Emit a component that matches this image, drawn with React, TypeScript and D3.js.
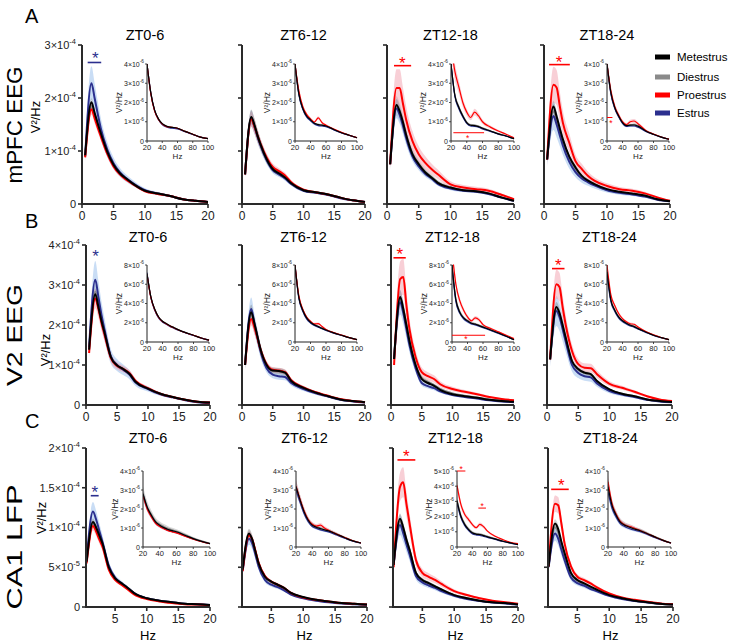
import React from "react";
import * as d3 from "d3";

// ---------- labels ----------
const STATES = ["Metestrus", "Diestrus", "Proestrus", "Estrus"];
const LINE_COLORS = ["#000000", "#8a8a8a", "#ff0000", "#2b2f8e"];
const BAND_COLORS = ["#8c8c8c", "#b0b0b0", "#f2a0ae", "#94bbec"];
const REGIONS = ["mPFC EEG", "V2 EEG", "CA1 LFP"];
const LETTERS = ["A", "B", "C"];
const PERIODS = ["ZT0-6", "ZT6-12", "ZT12-18", "ZT18-24"];

// ---------- frequencies ----------
const F_MAIN = [0.5, 1.5, 2, 2.5, 3, 4, 5, 6, 7, 8, 10, 12, 14, 16, 18, 20];
const F_INSET = [20, 25, 30, 35, 40, 45, 50, 55, 60, 70, 80, 90, 100];

// ---------- A: mPFC EEG, 0-20 Hz (x1e-4 V2/Hz) [Met, Di, Pro, Est] ----------
const mPFC_ZT0_6 = [
  [0.92, 1.92, 1.72, 1.52, 1.33, 0.99, 0.74, 0.58, 0.48, 0.39, 0.25, 0.2, 0.15, 0.09, 0.06, 0.04],
  [0.9, 1.85, 1.68, 1.49, 1.31, 0.98, 0.73, 0.58, 0.48, 0.39, 0.25, 0.2, 0.15, 0.09, 0.06, 0.04],
  [0.88, 1.79, 1.62, 1.44, 1.27, 0.95, 0.71, 0.56, 0.46, 0.38, 0.24, 0.19, 0.15, 0.09, 0.06, 0.04],
  [0.9, 2.28, 2.0, 1.7, 1.42, 1.03, 0.77, 0.6, 0.49, 0.4, 0.26, 0.2, 0.15, 0.09, 0.06, 0.04],
];
const mPFC_ZT6_12 = [
  [0.56, 1.64, 1.5, 1.3, 1.13, 0.85, 0.66, 0.58, 0.5, 0.39, 0.26, 0.22, 0.18, 0.12, 0.07, 0.04],
  [0.56, 1.62, 1.48, 1.29, 1.12, 0.85, 0.67, 0.59, 0.51, 0.4, 0.26, 0.22, 0.18, 0.12, 0.07, 0.04],
  [0.56, 1.6, 1.47, 1.3, 1.14, 0.88, 0.7, 0.62, 0.54, 0.41, 0.27, 0.22, 0.18, 0.12, 0.07, 0.04],
  [0.56, 1.62, 1.47, 1.28, 1.11, 0.83, 0.64, 0.56, 0.48, 0.38, 0.25, 0.21, 0.17, 0.11, 0.07, 0.04],
];
const mPFC_ZT12_18 = [
  [0.75, 1.87, 1.75, 1.55, 1.31, 0.94, 0.75, 0.6, 0.5, 0.4, 0.31, 0.26, 0.24, 0.2, 0.125, 0.06],
  [0.75, 1.85, 1.73, 1.53, 1.3, 0.95, 0.76, 0.61, 0.51, 0.41, 0.31, 0.26, 0.24, 0.2, 0.125, 0.06],
  [0.75, 2.19, 2.19, 1.9, 1.6, 1.19, 0.94, 0.78, 0.66, 0.56, 0.37, 0.31, 0.28, 0.25, 0.175, 0.09],
  [0.75, 1.8, 1.68, 1.48, 1.25, 0.9, 0.71, 0.57, 0.48, 0.38, 0.29, 0.25, 0.23, 0.19, 0.12, 0.06],
];
const mPFC_ZT18_24 = [
  [0.84, 1.84, 1.65, 1.43, 1.22, 0.9, 0.69, 0.53, 0.44, 0.375, 0.28, 0.23, 0.2, 0.16, 0.09, 0.05],
  [0.84, 1.75, 1.58, 1.37, 1.17, 0.86, 0.66, 0.51, 0.43, 0.37, 0.27, 0.22, 0.19, 0.15, 0.09, 0.05],
  [0.84, 2.25, 2.2, 1.85, 1.53, 1.16, 0.81, 0.66, 0.53, 0.44, 0.34, 0.28, 0.25, 0.2, 0.125, 0.06],
  [0.84, 1.66, 1.5, 1.3, 1.1, 0.8, 0.6, 0.48, 0.41, 0.35, 0.26, 0.21, 0.18, 0.14, 0.08, 0.05],
];

// ---------- A insets 20-100 Hz (x1e-6) ----------
const mPFC_IN_ZT0_6 = [
  [4.0, 2.5, 1.6, 1.15, 0.9, 0.78, 0.72, 0.7, 0.66, 0.5, 0.35, 0.2, 0.12],
  [4.0, 2.5, 1.6, 1.15, 0.9, 0.78, 0.72, 0.7, 0.66, 0.5, 0.35, 0.2, 0.12],
  [4.0, 2.45, 1.55, 1.12, 0.88, 0.76, 0.72, 0.7, 0.66, 0.5, 0.35, 0.2, 0.12],
  [4.0, 2.5, 1.58, 1.12, 0.86, 0.74, 0.68, 0.66, 0.63, 0.48, 0.34, 0.2, 0.12],
];
const mPFC_IN_ZT6_12 = [
  [4.0, 2.45, 1.7, 1.3, 1.1, 0.92, 0.85, 0.82, 0.78, 0.6, 0.43, 0.3, 0.17],
  [4.0, 2.45, 1.7, 1.3, 1.1, 0.92, 0.86, 0.83, 0.78, 0.6, 0.43, 0.3, 0.17],
  [4.0, 2.6, 1.8, 1.38, 1.15, 0.98, 1.2, 0.95, 0.82, 0.62, 0.45, 0.3, 0.17],
  [4.0, 2.4, 1.65, 1.25, 1.05, 0.88, 0.8, 0.78, 0.75, 0.58, 0.42, 0.29, 0.17],
];
const mPFC_IN_ZT12_18 = [
  [4.0, 2.35, 1.74, 1.3, 0.96, 0.82, 0.8, 0.75, 0.66, 0.52, 0.37, 0.26, 0.12],
  [4.0, 2.4, 1.78, 1.33, 0.98, 0.84, 0.82, 0.77, 0.68, 0.53, 0.38, 0.26, 0.12],
  [5.0, 3.6, 2.8, 2.0, 1.5, 1.22, 1.5, 1.3, 1.0, 0.72, 0.52, 0.35, 0.17],
  [4.0, 2.3, 1.68, 1.25, 0.92, 0.78, 0.76, 0.72, 0.63, 0.5, 0.36, 0.25, 0.12],
];
const mPFC_IN_ZT18_24 = [
  [4.0, 2.52, 1.74, 1.3, 0.96, 0.8, 0.82, 0.83, 0.77, 0.52, 0.35, 0.2, 0.09],
  [4.0, 2.5, 1.72, 1.28, 0.95, 0.8, 0.84, 0.86, 0.8, 0.53, 0.35, 0.2, 0.09],
  [4.0, 2.6, 1.8, 1.35, 1.0, 0.85, 1.0, 1.04, 0.9, 0.55, 0.36, 0.21, 0.1],
  [4.0, 2.45, 1.7, 1.26, 0.92, 0.76, 0.78, 0.78, 0.72, 0.5, 0.34, 0.2, 0.09],
];

// ---------- B: V2 EEG, 0-20 Hz (x1e-4) ----------
const V2_ZT0_6 = [
  [1.38, 2.77, 2.45, 2.1, 1.8, 1.2, 0.99, 0.9, 0.78, 0.58, 0.41, 0.28, 0.2, 0.13, 0.08, 0.06],
  [1.4, 2.83, 2.5, 2.12, 1.82, 1.2, 0.99, 0.9, 0.78, 0.58, 0.41, 0.28, 0.2, 0.13, 0.08, 0.06],
  [1.3, 2.66, 2.4, 2.05, 1.75, 1.18, 0.98, 0.9, 0.8, 0.6, 0.42, 0.28, 0.2, 0.13, 0.08, 0.06],
  [1.45, 3.13, 2.7, 2.25, 1.88, 1.22, 1.0, 0.88, 0.76, 0.56, 0.4, 0.27, 0.19, 0.12, 0.07, 0.05],
];
const V2_ZT6_12 = [
  [1.0, 2.32, 2.05, 1.72, 1.4, 1.0, 0.86, 0.85, 0.81, 0.6, 0.43, 0.31, 0.22, 0.14, 0.1, 0.07],
  [1.0, 2.28, 2.0, 1.7, 1.38, 0.98, 0.85, 0.84, 0.8, 0.6, 0.43, 0.31, 0.22, 0.14, 0.1, 0.07],
  [1.0, 2.15, 1.95, 1.68, 1.4, 1.02, 0.88, 0.86, 0.82, 0.62, 0.44, 0.32, 0.23, 0.15, 0.1, 0.07],
  [1.0, 2.4, 2.05, 1.7, 1.35, 0.92, 0.76, 0.72, 0.7, 0.55, 0.4, 0.29, 0.21, 0.13, 0.09, 0.06],
];
const V2_ZT12_18 = [
  [1.15, 2.7, 2.4, 2.0, 1.6, 1.0, 0.65, 0.55, 0.48, 0.38, 0.27, 0.22, 0.18, 0.13, 0.1, 0.08],
  [1.15, 2.65, 2.38, 2.0, 1.6, 1.0, 0.68, 0.58, 0.5, 0.4, 0.29, 0.23, 0.19, 0.14, 0.1, 0.08],
  [1.0, 3.15, 3.2, 2.5, 1.9, 1.2, 0.82, 0.72, 0.65, 0.52, 0.4, 0.33, 0.27, 0.2, 0.15, 0.12],
  [1.15, 2.57, 2.3, 1.9, 1.5, 0.92, 0.55, 0.47, 0.42, 0.34, 0.25, 0.2, 0.16, 0.12, 0.09, 0.07],
];
const V2_ZT18_24 = [
  [1.14, 2.45, 2.3, 2.0, 1.68, 1.1, 0.9, 0.81, 0.77, 0.6, 0.39, 0.28, 0.22, 0.14, 0.1, 0.075],
  [1.14, 2.4, 2.25, 1.96, 1.65, 1.08, 0.88, 0.8, 0.76, 0.59, 0.38, 0.28, 0.22, 0.14, 0.1, 0.075],
  [1.14, 3.02, 2.95, 2.45, 2.0, 1.35, 1.02, 0.93, 0.92, 0.77, 0.53, 0.43, 0.33, 0.22, 0.14, 0.1],
  [1.14, 2.35, 2.2, 1.9, 1.58, 1.0, 0.8, 0.72, 0.69, 0.54, 0.35, 0.26, 0.2, 0.13, 0.09, 0.07],
];

// ---------- B insets (x1e-6) ----------
const V2_IN_ZT0_6 = [
  [7.1, 4.7, 3.4, 2.6, 2.15, 1.9, 1.67, 1.48, 1.29, 0.97, 0.7, 0.42, 0.2],
  [7.1, 4.7, 3.4, 2.6, 2.15, 1.9, 1.67, 1.48, 1.29, 0.97, 0.7, 0.42, 0.2],
  [7.0, 4.6, 3.35, 2.55, 2.12, 1.88, 1.65, 1.46, 1.28, 0.96, 0.7, 0.42, 0.2],
  [7.2, 4.6, 3.3, 2.5, 2.08, 1.84, 1.6, 1.42, 1.24, 0.94, 0.68, 0.4, 0.2],
];
const V2_IN_ZT6_12 = [
  [8.0, 4.6, 3.3, 2.5, 2.05, 1.78, 1.6, 1.42, 1.25, 0.95, 0.7, 0.45, 0.24],
  [8.0, 4.65, 3.35, 2.55, 2.1, 1.8, 1.62, 1.45, 1.27, 0.96, 0.71, 0.45, 0.24],
  [8.0, 4.8, 3.4, 2.6, 2.15, 1.88, 1.9, 1.6, 1.3, 0.98, 0.72, 0.46, 0.24],
  [8.0, 4.5, 3.2, 2.4, 1.98, 1.72, 1.55, 1.38, 1.2, 0.92, 0.68, 0.44, 0.23],
];
const V2_IN_ZT12_18 = [
  [8.0, 4.4, 3.1, 2.5, 2.2, 1.95, 1.85, 1.7, 1.55, 1.25, 0.94, 0.6, 0.24],
  [8.0, 4.5, 3.2, 2.55, 2.25, 2.0, 1.9, 1.75, 1.6, 1.28, 0.96, 0.62, 0.25],
  [9.5, 6.0, 4.3, 3.3, 2.6, 2.2, 2.5, 2.3, 1.8, 1.4, 1.05, 0.7, 0.35],
  [7.8, 4.2, 3.0, 2.4, 2.1, 1.88, 1.78, 1.65, 1.5, 1.2, 0.9, 0.58, 0.23],
];
const V2_IN_ZT18_24 = [
  [7.3, 4.35, 3.3, 2.6, 2.2, 1.95, 1.74, 1.6, 1.39, 1.04, 0.7, 0.45, 0.24],
  [7.5, 4.4, 3.35, 2.65, 2.22, 1.98, 1.78, 1.65, 1.42, 1.06, 0.72, 0.46, 0.24],
  [8.0, 4.9, 3.8, 2.96, 2.43, 2.1, 1.9, 1.84, 1.57, 1.1, 0.75, 0.47, 0.25],
  [7.0, 4.2, 3.2, 2.5, 2.12, 1.88, 1.68, 1.55, 1.35, 1.0, 0.68, 0.44, 0.23],
];

// ---------- C: CA1 LFP, 0-20 Hz (x1e-4) ----------
const CA1_ZT0_6 = [
  [0.57, 1.07, 1.0, 0.9, 0.8, 0.5, 0.36, 0.3, 0.24, 0.175, 0.11, 0.08, 0.06, 0.04, 0.035, 0.025],
  [0.57, 1.05, 0.98, 0.88, 0.79, 0.5, 0.36, 0.3, 0.24, 0.175, 0.11, 0.08, 0.06, 0.04, 0.035, 0.025],
  [0.55, 1.02, 0.95, 0.85, 0.76, 0.47, 0.34, 0.28, 0.22, 0.16, 0.1, 0.07, 0.05, 0.035, 0.03, 0.02],
  [0.6, 1.2, 1.1, 0.96, 0.82, 0.52, 0.37, 0.3, 0.24, 0.175, 0.11, 0.08, 0.06, 0.04, 0.035, 0.025],
];
const CA1_ZT6_12 = [
  [0.47, 0.925, 0.85, 0.7, 0.55, 0.38, 0.32, 0.28, 0.24, 0.18, 0.125, 0.09, 0.07, 0.05, 0.04, 0.03],
  [0.47, 0.91, 0.84, 0.69, 0.55, 0.38, 0.31, 0.27, 0.23, 0.18, 0.12, 0.09, 0.07, 0.05, 0.04, 0.03],
  [0.45, 0.9, 0.85, 0.71, 0.56, 0.39, 0.32, 0.28, 0.24, 0.18, 0.12, 0.09, 0.07, 0.05, 0.04, 0.03],
  [0.45, 0.86, 0.8, 0.66, 0.51, 0.34, 0.28, 0.25, 0.21, 0.16, 0.11, 0.08, 0.06, 0.045, 0.035, 0.025],
];
const CA1_ZT12_18 = [
  [0.53, 1.11, 1.0, 0.85, 0.72, 0.43, 0.34, 0.3, 0.26, 0.22, 0.15, 0.11, 0.08, 0.06, 0.05, 0.03],
  [0.53, 1.08, 0.98, 0.84, 0.71, 0.43, 0.34, 0.3, 0.26, 0.22, 0.15, 0.11, 0.08, 0.06, 0.05, 0.03],
  [0.5, 1.51, 1.57, 1.3, 1.05, 0.59, 0.43, 0.38, 0.34, 0.29, 0.2, 0.15, 0.11, 0.08, 0.06, 0.04],
  [0.53, 1.03, 0.93, 0.79, 0.66, 0.39, 0.31, 0.27, 0.24, 0.2, 0.14, 0.1, 0.075, 0.055, 0.045, 0.03],
];
const CA1_ZT18_24 = [
  [0.51, 1.05, 0.98, 0.82, 0.68, 0.43, 0.34, 0.3, 0.26, 0.22, 0.15, 0.11, 0.08, 0.06, 0.04, 0.03],
  [0.51, 1.0, 0.94, 0.79, 0.66, 0.42, 0.33, 0.29, 0.25, 0.21, 0.15, 0.11, 0.08, 0.06, 0.04, 0.03],
  [0.51, 1.3, 1.28, 1.05, 0.8, 0.51, 0.38, 0.34, 0.3, 0.25, 0.17, 0.12, 0.09, 0.065, 0.045, 0.035],
  [0.5, 0.925, 0.86, 0.72, 0.59, 0.37, 0.3, 0.27, 0.23, 0.2, 0.14, 0.1, 0.075, 0.055, 0.04, 0.03],
];

// ---------- C insets (x1e-6) ----------
const CA1_IN_ZT0_6 = [
  [2.8, 2.1, 1.67, 1.32, 1.15, 1.02, 0.92, 0.86, 0.8, 0.62, 0.44, 0.3, 0.18],
  [2.85, 2.15, 1.72, 1.38, 1.2, 1.08, 0.98, 0.9, 0.84, 0.66, 0.47, 0.32, 0.19],
  [2.7, 2.0, 1.58, 1.25, 1.08, 0.96, 0.86, 0.8, 0.74, 0.57, 0.41, 0.28, 0.17],
  [2.75, 2.05, 1.62, 1.28, 1.1, 0.98, 0.88, 0.82, 0.76, 0.59, 0.42, 0.29, 0.17],
];
const CA1_IN_ZT6_12 = [
  [3.17, 2.47, 1.85, 1.41, 1.15, 1.04, 0.97, 0.9, 0.85, 0.67, 0.49, 0.32, 0.21],
  [3.2, 2.5, 1.88, 1.44, 1.18, 1.07, 1.0, 0.93, 0.87, 0.69, 0.5, 0.33, 0.21],
  [3.2, 2.5, 1.9, 1.45, 1.2, 1.1, 1.15, 1.0, 0.88, 0.68, 0.5, 0.33, 0.21],
  [3.0, 2.35, 1.75, 1.33, 1.08, 0.98, 0.9, 0.84, 0.8, 0.63, 0.46, 0.3, 0.2],
];
const CA1_IN_ZT12_18 = [
  [3.04, 2.04, 1.49, 1.16, 0.93, 0.85, 0.82, 0.75, 0.67, 0.53, 0.38, 0.27, 0.16],
  [3.1, 2.1, 1.55, 1.2, 0.97, 0.88, 0.85, 0.78, 0.7, 0.55, 0.4, 0.28, 0.17],
  [4.05, 2.82, 2.16, 1.82, 1.49, 1.27, 1.49, 1.33, 1.04, 0.71, 0.49, 0.31, 0.22],
  [2.9, 1.95, 1.42, 1.1, 0.88, 0.8, 0.77, 0.7, 0.63, 0.5, 0.36, 0.25, 0.15],
];
const CA1_IN_ZT18_24 = [
  [3.18, 2.2, 1.7, 1.34, 1.17, 1.08, 1.0, 0.93, 0.87, 0.7, 0.52, 0.35, 0.21],
  [3.3, 2.28, 1.76, 1.4, 1.22, 1.12, 1.04, 0.96, 0.9, 0.72, 0.54, 0.36, 0.22],
  [3.44, 2.3, 1.75, 1.38, 1.2, 1.1, 1.05, 0.96, 0.88, 0.7, 0.52, 0.35, 0.21],
  [2.9, 2.05, 1.6, 1.26, 1.1, 1.0, 0.93, 0.87, 0.82, 0.66, 0.49, 0.33, 0.2],
];

// ---------- SEM (fraction of mean) per panel [Met, Di, Pro, Est] ----------
const SEM_MAIN_A = [[0.04, 0.05, 0.06, 0.14], [0.08, 0.1, 0.09, 0.09], [0.06, 0.1, 0.16, 0.1], [0.06, 0.08, 0.15, 0.16]];
const SEM_MAIN_B = [[0.05, 0.06, 0.09, 0.15], [0.08, 0.1, 0.08, 0.12], [0.06, 0.08, 0.14, 0.12], [0.05, 0.07, 0.12, 0.16]];
const SEM_MAIN_C = [[0.04, 0.05, 0.06, 0.1], [0.05, 0.08, 0.06, 0.09], [0.06, 0.08, 0.12, 0.12], [0.05, 0.06, 0.08, 0.1]];
const SEM_INSET_A = [[0.03, 0.04, 0.04, 0.05], [0.04, 0.05, 0.07, 0.05], [0.05, 0.06, 0.12, 0.06], [0.04, 0.05, 0.1, 0.06]];
const SEM_INSET_B = [[0.03, 0.04, 0.04, 0.05], [0.04, 0.05, 0.06, 0.05], [0.04, 0.05, 0.08, 0.06], [0.04, 0.05, 0.06, 0.06]];
const SEM_INSET_C = [[0.06, 0.12, 0.06, 0.08], [0.06, 0.1, 0.1, 0.06], [0.05, 0.08, 0.08, 0.06], [0.06, 0.1, 0.1, 0.08]];

// ---------- axis ticks ----------
const MAIN_Y_TICKS = [[0, 1, 2, 3], [0, 1, 2, 3, 4], [0, 0.5, 1, 1.5, 2]];
const MAIN_Y_LABELS = [
  [["0", ""], ["1×10", "-4"], ["2×10", "-4"], ["3×10", "-4"]],
  [["0", ""], ["1×10", "-4"], ["2×10", "-4"], ["3×10", "-4"], ["4×10", "-4"]],
  [["0", ""], ["5×10", "-5"], ["1×10", "-4"], ["1.5×10", "-4"], ["2×10", "-4"]],
];
const MAIN_X_TICKS = [[0, 5, 10, 15, 20], [0, 5, 10, 15, 20], [5, 10, 15, 20]];
const MAIN_X_DOMAIN = [[0, 20], [0, 20], [0.4, 20]];
const INSET_X_TICKS = [20, 40, 60, 80, 100];
const INSET_Y_TICKS_4 = [0, 1, 2, 3, 4];
const INSET_Y_TICKS_5 = [0, 1, 2, 3, 4, 5];
const INSET_Y_TICKS_8 = [0, 2, 4, 6, 8];

// ---------- significance marks (data coords) ----------
const STARS_MAIN = [
  { r: 0, c: 0, s: 3, x0: 0.9, x1: 3.05, yl: 2.67, xs: 2.1, ys: 2.8 },
  { r: 0, c: 2, s: 2, x0: 1.1, x1: 3.8, yl: 2.61, xs: 2.4, ys: 2.7 },
  { r: 0, c: 3, s: 2, x0: 0.8, x1: 4.1, yl: 2.63, xs: 2.4, ys: 2.71 },
  { r: 1, c: 0, s: 3, x0: null, x1: null, yl: 0, xs: 1.56, ys: 3.77 },
  { r: 1, c: 2, s: 2, x0: 0.4, x1: 2.4, yl: 3.68, xs: 1.45, ys: 3.83 },
  { r: 1, c: 3, s: 2, x0: 0.8, x1: 2.8, yl: 3.41, xs: 1.8, ys: 3.56 },
  { r: 2, c: 0, s: 3, x0: 1.15, x1: 2.4, yl: 1.4, xs: 1.8, ys: 1.47 },
  { r: 2, c: 2, s: 2, x0: 1.1, x1: 3.9, yl: 1.85, xs: 2.5, ys: 1.93 },
  { r: 2, c: 3, s: 2, x0: 0.9, x1: 3.65, yl: 1.48, xs: 2.5, ys: 1.555 },
];
const STARS_INSET = [
  { r: 0, c: 2, s: 2, x0: 23, x1: 62, yl: 0.43, xs: 41, ys: 0.2 },
  { r: 0, c: 3, s: 2, x0: 20, x1: 27, yl: 1.22, xs: 25, ys: 1.0 },
  { r: 1, c: 2, s: 2, x0: 20, x1: 62.7, yl: 0.7, xs: 38, ys: 0.4 },
  { r: 2, c: 2, s: 2, x0: 20, x1: 31, yl: 5.0, xs: 25.5, ys: 5.22 },
  { r: 2, c: 2, s: 2, x0: 48, x1: 58, yl: 2.56, xs: 53, ys: 2.78 },
];

const MAIN_DATA = [
  [mPFC_ZT0_6, mPFC_ZT6_12, mPFC_ZT12_18, mPFC_ZT18_24],
  [V2_ZT0_6, V2_ZT6_12, V2_ZT12_18, V2_ZT18_24],
  [CA1_ZT0_6, CA1_ZT6_12, CA1_ZT12_18, CA1_ZT18_24],
];
const INSET_DATA = [
  [mPFC_IN_ZT0_6, mPFC_IN_ZT6_12, mPFC_IN_ZT12_18, mPFC_IN_ZT18_24],
  [V2_IN_ZT0_6, V2_IN_ZT6_12, V2_IN_ZT12_18, V2_IN_ZT18_24],
  [CA1_IN_ZT0_6, CA1_IN_ZT6_12, CA1_IN_ZT12_18, CA1_IN_ZT18_24],
];
const MAIN_SEM = [SEM_MAIN_A, SEM_MAIN_B, SEM_MAIN_C];
const INSET_SEM = [SEM_INSET_A, SEM_INSET_B, SEM_INSET_C];

// ---------- layout ----------
const W = 729, H = 642;
const FONT = "'Liberation Sans', Arial, Helvetica, sans-serif";
const COL_L = [[82, 242, 387, 544], [86, 242, 391, 547], [86, 242, 393, 548]];
const COL_R = [[208, 365, 514, 670], [210, 365, 514, 672], [210, 367, 518, 673]];
const ROW_T = [45, 245, 448];
const ROW_B = [204, 405, 607];
const IN_L = [[147, 295, 451, 607], [147, 295, 452, 607], [143, 296, 457, 608]];
const IN_R = [[208, 357, 514, 669], [209, 357, 514, 669], [210, 361, 518, 671]];
const IN_T = [64, 265, 471];
const IN_B = [141, 342, 547];
const TITLE_Y = [40, 242, 443];
const LETTER_Y = [23, 228, 428];
const REGION_CY = [125, 335, 547];
const REGION_LEN = [117, 102, 125];
const YLAB = [[40, 117], [50, 350], [46, 518]];
const LEGEND_Y = [57, 77, 95, 113];
const DRAW_ORDER = [1, 3, 2, 0];

function Exp({ base, exp, fs }: { base: string; exp: string; fs: number }) {
  return (
    <>
      {base}
      {exp ? (
        <tspan dy={-fs * 0.45} fontSize={fs * 0.68}>
          {exp}
        </tspan>
      ) : null}
    </>
  );
}

function Curves({ x, y, F, series, sem, lw, clipId }: any) {
  const line = d3
    .line<number>()
    .x((_, i) => x(F[i]))
    .y((v) => y(v))
    .curve(d3.curveMonotoneX);
  const area = (s: number) =>
    d3
      .area<number>()
      .x((_, i) => x(F[i]))
      .y0((v) => y(v * (1 - s)))
      .y1((v) => y(v * (1 + s)))
      .curve(d3.curveMonotoneX);
  return (
    <g clipPath={clipId ? `url(#${clipId})` : undefined}>
      {DRAW_ORDER.map((k) => (
        <path key={"b" + k} d={area(sem[k])(series[k]) || ""} fill={BAND_COLORS[k]} opacity={k === 0 ? 0.35 : 0.5} />
      ))}
      {DRAW_ORDER.map((k) => (
        <path key={"l" + k} d={line(series[k]) || ""} fill="none" stroke={LINE_COLORS[k]} strokeWidth={lw} strokeLinejoin="round" />
      ))}
    </g>
  );
}

function Panel({ r, c }: { r: number; c: number }) {
  const L = COL_L[r][c], R = COL_R[r][c], T = ROW_T[r], B = ROW_B[r];
  const x = d3.scaleLinear().domain(MAIN_X_DOMAIN[r]).range([L, R]);
  const yt = MAIN_Y_TICKS[r];
  const y = d3.scaleLinear().domain([0, yt[yt.length - 1]]).range([B, T]);
  const axisColor = "#2a2a2a";
  const stars = STARS_MAIN.filter((s) => s.r === r && s.c === c);
  return (
    <g>
      <text x={(L + R) / 2} y={TITLE_Y[r]} fontSize={14.5} textAnchor="middle" fontFamily={FONT}>
        {PERIODS[c]}
      </text>
      <Curves x={x} y={y} F={F_MAIN} series={MAIN_DATA[r][c]} sem={MAIN_SEM[r][c]} lw={2} />
      <line x1={L} x2={L} y1={T} y2={B + 1} stroke={axisColor} strokeWidth={2} />
      <line x1={L - 1} x2={R} y1={B} y2={B} stroke={axisColor} strokeWidth={2} />
      {yt.map((t, i) => (
        <g key={"yt" + i}>
          <line x1={L - 4} x2={L} y1={y(t)} y2={y(t)} stroke={axisColor} strokeWidth={1.6} />
          {c === 0 ? (
            <text x={L - 6} y={y(t) + 3.8} fontSize={11} textAnchor="end" fontFamily={FONT} fill="#222">
              <Exp base={MAIN_Y_LABELS[r][i][0]} exp={MAIN_Y_LABELS[r][i][1]} fs={11} />
            </text>
          ) : null}
        </g>
      ))}
      {MAIN_X_TICKS[r].map((t) => (
        <g key={"xt" + t}>
          <line x1={x(t)} x2={x(t)} y1={B} y2={B + 4} stroke={axisColor} strokeWidth={1.6} />
          <text x={x(t)} y={B + 15.5} fontSize={12} textAnchor="middle" fontFamily={FONT} fill="#222">
            {t}
          </text>
        </g>
      ))}
      {r === 2 ? (
        <text x={(L + R) / 2} y={640} fontSize={13} textAnchor="middle" fontFamily={FONT}>
          Hz
        </text>
      ) : null}
      {stars.map((s, i) => (
        <g key={"st" + i}>
          {s.x0 !== null ? (
            <line x1={x(s.x0)} x2={x(s.x1 as number)} y1={y(s.yl)} y2={y(s.yl)} stroke={LINE_COLORS[s.s]} strokeWidth={1.6} />
          ) : null}
          <text x={x(s.xs)} y={y(s.ys) + 8} fontSize={17} textAnchor="middle" fontFamily={FONT} fill={LINE_COLORS[s.s]}>
            *
          </text>
        </g>
      ))}
      <Inset r={r} c={c} />
    </g>
  );
}

function Inset({ r, c }: { r: number; c: number }) {
  const L = IN_L[r][c], R = IN_R[r][c], T = IN_T[r], B = IN_B[r];
  const yt = r === 1 ? INSET_Y_TICKS_8 : r === 2 && c === 2 ? INSET_Y_TICKS_5 : INSET_Y_TICKS_4;
  const x = d3.scaleLinear().domain([20, 100]).range([L, R]);
  const y = d3.scaleLinear().domain([0, yt[yt.length - 1]]).range([B, T]);
  const clipId = `clip-in-${r}-${c}`;
  const stars = STARS_INSET.filter((s) => s.r === r && s.c === c);
  return (
    <g>
      <defs>
        <clipPath id={clipId}>
          <rect x={L} y={T - 0.5} width={R - L + 2} height={B - T + 1} />
        </clipPath>
      </defs>
      <Curves x={x} y={y} F={F_INSET} series={INSET_DATA[r][c]} sem={INSET_SEM[r][c]} lw={1.2} clipId={clipId} />
      <line x1={L} x2={L} y1={T} y2={B} stroke="#222" strokeWidth={1} />
      <line x1={L} x2={R} y1={B} y2={B} stroke="#222" strokeWidth={1} />
      {yt.map((t) => (
        <g key={"iy" + t}>
          <line x1={L - 2} x2={L} y1={y(t)} y2={y(t)} stroke="#222" strokeWidth={0.8} />
          <text x={L - 3} y={y(t) + 2.5} fontSize={7} textAnchor="end" fontFamily={FONT} fill="#222">
            <Exp base={t === 0 ? "0" : `${t}×10`} exp={t === 0 ? "" : "-6"} fs={7} />
          </text>
        </g>
      ))}
      {INSET_X_TICKS.map((t) => (
        <g key={"ix" + t}>
          <line x1={x(t)} x2={x(t)} y1={B} y2={B + 2} stroke="#222" strokeWidth={0.8} />
          <text x={x(t)} y={B + 9} fontSize={7.5} textAnchor="middle" fontFamily={FONT} fill="#222">
            {t}
          </text>
        </g>
      ))}
      <text x={(L + R) / 2} y={B + 17.5} fontSize={8} textAnchor="middle" fontFamily={FONT} fill="#222">
        Hz
      </text>
      <text
        transform={`translate(${L - 25},${(T + B) / 2}) rotate(-90)`}
        fontSize={8.5}
        textAnchor="middle"
        fontFamily={FONT}
        fill="#222"
      >
        V²/Hz
      </text>
      {stars.map((s, i) => (
        <g key={"is" + i}>
          <line x1={x(s.x0)} x2={x(s.x1)} y1={y(s.yl)} y2={y(s.yl)} stroke={LINE_COLORS[s.s]} strokeWidth={1} />
          <text x={x(s.xs)} y={y(s.ys) + 4} fontSize={8.5} textAnchor="middle" fontFamily={FONT} fill={LINE_COLORS[s.s]}>
            *
          </text>
        </g>
      ))}
    </g>
  );
}

export default function App() {
  return (
    <svg
      width={W}
      height={H}
      viewBox={`0 0 ${W} ${H}`}
      style={{ position: "absolute", left: 0, top: 0, background: "#ffffff" }}
    >
      <rect x={0} y={0} width={W} height={H} fill="#ffffff" />
      {REGIONS.map((name, r) => (
        <g key={name}>
          <text x={25} y={LETTER_Y[r]} fontSize={20} fontFamily={FONT}>
            {LETTERS[r]}
          </text>
          <text
            transform={`translate(22,${REGION_CY[r]}) rotate(-90)`}
            fontSize={22}
            textAnchor="middle"
            fontFamily={FONT}
            textLength={REGION_LEN[r]}
            lengthAdjust="spacingAndGlyphs"
          >
            {name}
          </text>
          <text
            transform={`translate(${YLAB[r][0]},${YLAB[r][1]}) rotate(-90)`}
            fontSize={13}
            textAnchor="middle"
            fontFamily={FONT}
          >
            V²/Hz
          </text>
          {PERIODS.map((p, c) => (
            <Panel key={p} r={r} c={c} />
          ))}
        </g>
      ))}
      {STATES.map((s, k) => (
        <g key={s}>
          <rect x={655} y={LEGEND_Y[k] - 2.5} width={15} height={5} fill={LINE_COLORS[k]} />
          <text x={677} y={LEGEND_Y[k] + 4.3} fontSize={11.5} fontFamily={FONT}>
            {s}
          </text>
        </g>
      ))}
    </svg>
  );
}
